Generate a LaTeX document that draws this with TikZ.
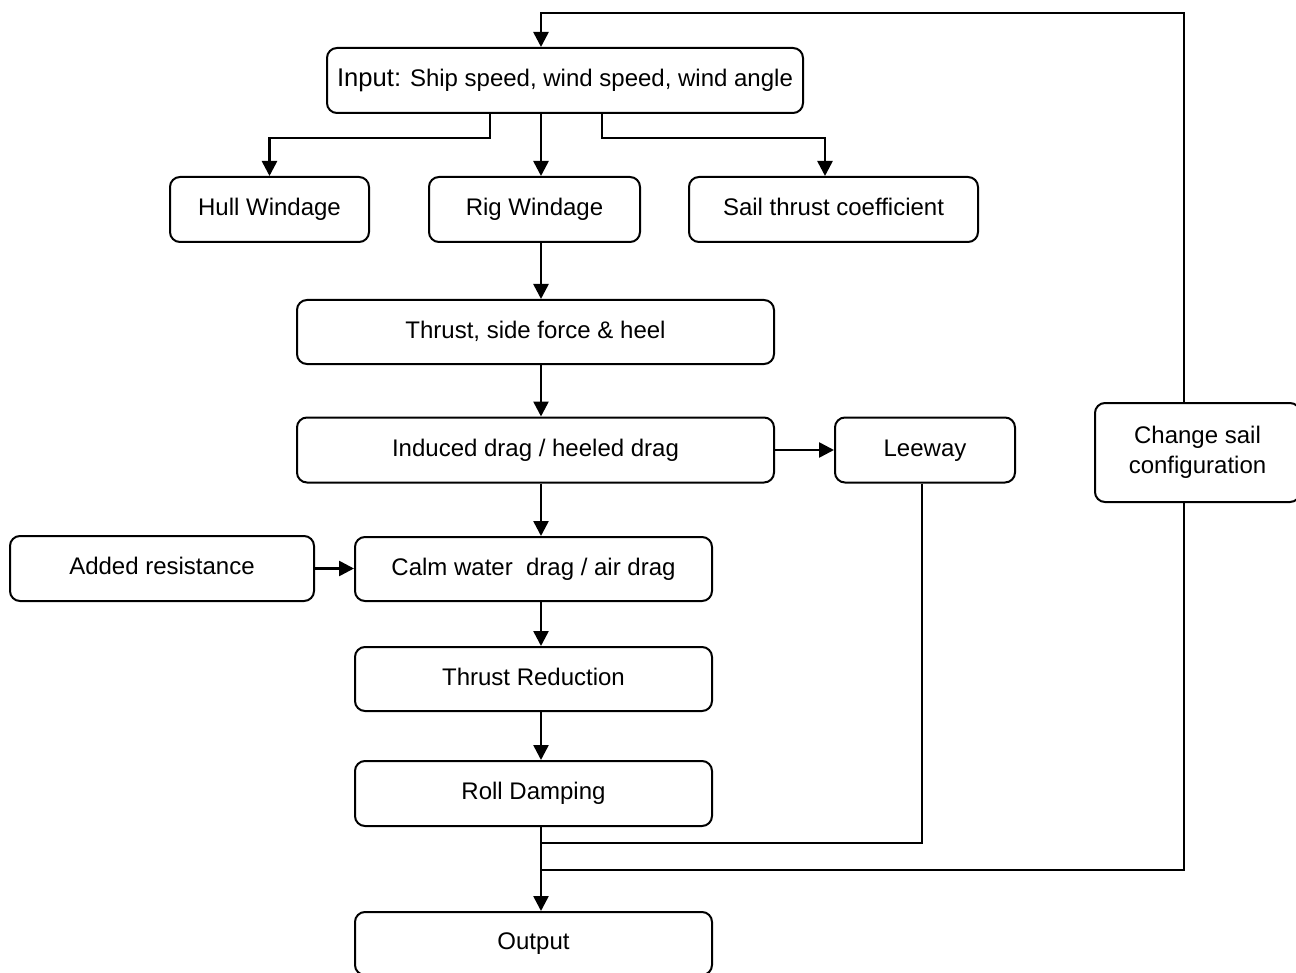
\documentclass[tikz,border=0pt]{standalone}
\usepackage{fontspec}
\setmainfont{Liberation Sans}
\usetikzlibrary{arrows.meta}

\begin{document}
\begin{tikzpicture}[x=0.5pt,y=-0.5pt,
	blk/.style={draw,line width=1pt,rounded corners=5pt,inner sep=0pt,align=center,font=\fontsize{12}{15}\selectfont},
	one/.style={blk,text height=9pt,text depth=2.6pt},
	arr/.style={line width=1.3pt,-{Triangle[length=7.5pt,width=7.5pt]}},
	lin/.style={line width=1pt}]
	\useasboundingbox (0,0) rectangle (1296,973);
	\clip (0,0) rectangle (1296,973);
	
	%BOXES
	\node[one,minimum width=238pt,minimum height=32.5pt] (input) at (565,80.5) {{\fontsize{12.8}{15}\selectfont Input:} Ship speed, wind speed, wind angle};
	\node[one,minimum width=99.5pt,minimum height=32.5pt] (hull) at (269.5,209.5) {Hull Windage};
	\node[one,minimum width=105.5pt,minimum height=32.5pt] (rig) at (534.5,209.5) {Rig Windage};
	\node[one,minimum width=144.5pt,minimum height=32.5pt] (sail) at (833.5,209.5) {Sail thrust coefficient};
	\node[one,minimum width=238.5pt,minimum height=32pt] (thrust) at (535.5,332) {Thrust, side force \& heel};
	\node[one,minimum width=238.5pt,minimum height=32.5pt] (induced) at (535.5,450) {Induced drag / heeled drag};
	\node[one,minimum width=90pt,minimum height=32.5pt] (leeway) at (925,450) {Leeway};
	\node[blk,minimum width=102.5pt,minimum height=49.5pt] (change) at (1197.5,452.5) {Change sail\\configuration};
	\node[one,minimum width=152pt,minimum height=32.5pt] (added) at (162,568.5) {Added resistance};
	\node[one,minimum width=178.5pt,minimum height=32pt] (calm) at (533.5,569) {Calm water\ \ drag / air drag};
	\node[one,minimum width=178.5pt,minimum height=32pt] (red) at (533.5,679) {Thrust Reduction};
	\node[one,minimum width=178.5pt,minimum height=32.5pt] (roll) at (533.5,793.5) {Roll Damping};
	\node[one,minimum width=178.5pt,minimum height=31.5pt] (output) at (533.5,943.5) {Output};
	
	%MAIN LINE
	\coordinate (mainx) at (541,0);
	\foreach \a/\b in {input/rig,rig/thrust,thrust/induced,induced/calm,calm/red,red/roll,roll/output}{
		\draw[arr] (\a.south -| mainx)--(\b.north -| mainx);
	}
	
	%BRANCHES
	\coordinate (hb) at (490,138);
	\coordinate (sb) at (602,138);
	\coordinate (sx) at (825,138);
	\draw[arr] (input.south -| hb)--(hb)-|(hull.north);
	\draw[arr] (input.south -| sb)--(sb)--(sx)--(sail.north -| sx);
	\draw[arr] (induced.east)--(induced.east -| leeway.west);
	\draw[arr] (added.east)--(added.east -| calm.west);
	
	%FEEDBACK
	\coordinate (lw) at (922,843);
	\coordinate (fb) at (1184,870);
	\coordinate (top) at (1184,13);
	\draw[lin] (leeway.south -| lw)--(lw)--(lw -| mainx);
	\draw[lin] (fb -| mainx)--(fb)--(change.south -| fb);
	\draw[arr] (change.north -| top)--(top)--(top -| mainx)--(input.north -| mainx);
\end{tikzpicture}
\end{document}
